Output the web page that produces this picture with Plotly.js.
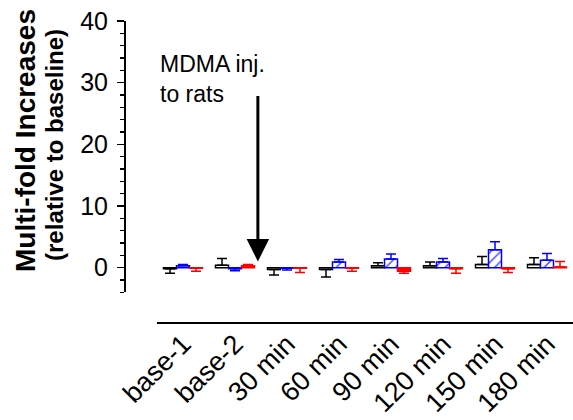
<!DOCTYPE html>
<html>
<head>
<meta charset="utf-8">
<script src="https://cdn.plot.ly/plotly-3.0.1.min.js"></script>
<style>html,body{margin:0;padding:0;background:#fff;}#chart{width:573px;height:420px;}</style>
</head>
<body>
<div id="chart"></div>
<script>
const categories = ['base-1','base-2','30 min','60 min','90 min','120 min','150 min','180 min'];
const blackValues = [-0.2, 0.4, -0.3, -0.3, 0.3, 0.3, 0.5, 0.5];
const blackErr    = [0.7, 1.1, 0.9, 1.2, 0.5, 0.6, 1.3, 1.1];
const blueValues  = [0.3, -0.2, -0.1, 0.9, 1.4, 0.9, 2.9, 1.2];
const blueErr     = [0.2, 0.3, 0.3, 0.4, 0.8, 0.6, 1.3, 1.1];
const redValues   = [-0.1, 0.3, -0.1, -0.1, -0.6, -0.2, -0.2, 0.1];
const redErr      = [0.5, 0.2, 0.7, 0.5, 0.3, 0.7, 0.6, 0.9];
const yTickVals = [0, 10, 20, 30, 40];

const FONT = 'Liberation Sans, Arial, sans-serif';

function oneSided(vals, errs) {
  return {
    type: 'data', symmetric: false,
    array: vals.map((v, i) => v >= 0 ? errs[i] : 0),
    arrayminus: vals.map((v, i) => v < 0 ? errs[i] : 0),
    thickness: 1.5, width: 5
  };
}

const traces = [
  {
    type: 'bar', name: 'control', x: categories, y: blackValues,
    marker: {color: 'white', line: {color: 'black', width: 1.5}},
    error_y: Object.assign(oneSided(blackValues, blackErr), {color: 'black'})
  },
  {
    type: 'bar', name: 'group 2', x: categories, y: blueValues,
    marker: {color: 'white', line: {color: 'blue', width: 1.5},
             pattern: {shape: '/', fgcolor: 'blue', bgcolor: 'white', size: 7, solidity: 0.15}},
    error_y: Object.assign(oneSided(blueValues, blueErr), {color: 'blue'})
  },
  {
    type: 'bar', name: 'group 3', x: categories, y: redValues,
    marker: {color: 'red', line: {color: 'red', width: 1.5}},
    error_y: Object.assign(oneSided(redValues, redErr), {color: 'red'})
  }
];

const layout = {
  width: 573, height: 420,
  margin: {l: 124, r: 0, t: 21, b: 98},
  paper_bgcolor: 'white', plot_bgcolor: 'white',
  showlegend: false,
  barmode: 'group', bargap: 0.25, bargroupgap: 0,
  font: {family: FONT, color: 'black'},
  xaxis: {
    domain: [0.0735, 1], anchor: 'free', position: 0,
    range: [-0.5, 7.5], showline: true, linecolor: 'black', linewidth: 1.5,
    ticks: '', tickangle: -45, tickfont: {size: 27, family: FONT, color: 'black'},
    ticklabelstandoff: -6,
    showgrid: false, zeroline: false, fixedrange: true
  },
  yaxis: {
    domain: [0.0987, 1], anchor: 'free', position: 0,
    range: [-4, 40], tickvals: yTickVals, ticktext: yTickVals.map(String),
    showline: true, linecolor: 'black', linewidth: 1.5,
    ticks: 'outside', ticklen: 7, tickwidth: 1.5, tickcolor: 'black',
    ticklabelstandoff: 4,
    minor: {dtick: 2, tick0: 0, ticks: 'outside', ticklen: 4, tickwidth: 1.2, tickcolor: 'black', showgrid: false},
    tickfont: {size: 25, family: FONT, color: 'black'},
    showgrid: false, zeroline: false, fixedrange: true
  },
  annotations: [
    {xref: 'paper', yref: 'paper', x: -0.2183, y: 0.6047, xanchor: 'center', yanchor: 'middle',
     textangle: -90, showarrow: false,
     text: '<b>Multi-fold Increases</b>', font: {size: 28, family: FONT, color: 'black'}},
    {xref: 'paper', yref: 'paper', x: -0.156, y: 0.588, xanchor: 'center', yanchor: 'middle',
     textangle: -90, showarrow: false,
     text: '<b>(relative to baseline)</b>', font: {size: 24, family: FONT, color: 'black'}},
    {xref: 'paper', yref: 'paper', x: 0.0757, y: 0.807, xanchor: 'left', yanchor: 'middle', align: 'left',
     showarrow: false, text: 'MDMA inj.<br>to rats', font: {size: 23, family: FONT, color: 'black'}},
    {xref: 'x', yref: 'y', x: 1.44, y: 1.0, text: '', showarrow: true,
     axref: 'pixel', ayref: 'pixel', ax: 0, ay: -167,
     arrowhead: 2, arrowwidth: 3, arrowsize: 1.5, arrowcolor: 'black', standoff: 0}
  ]
};

Plotly.newPlot('chart', traces, layout, {staticPlot: true, displayModeBar: false});
</script>
</body>
</html>
